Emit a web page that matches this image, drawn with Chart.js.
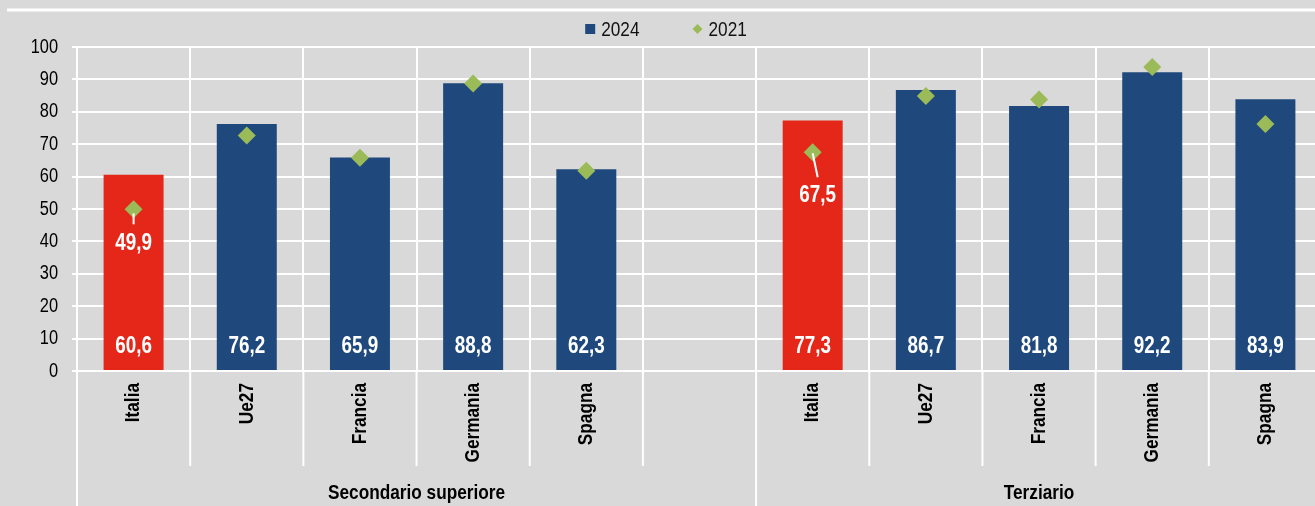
<!DOCTYPE html>
<html>
<head>
<meta charset="utf-8">
<script src="https://cdn.jsdelivr.net/npm/chart.js@4.4.1/dist/chart.umd.min.js"></script>
<style>
  html, body { margin: 0; padding: 0; background: #d9d9d9; overflow: hidden; }
  #wrap { width: 1331px; height: 506px; position: relative; }
</style>
</head>
<body>
<div id="wrap"><canvas id="chart"></canvas></div>
<script>
// data
const categories = ['Italia', 'Ue27', 'Francia', 'Germania', 'Spagna', '', 'Italia', 'Ue27', 'Francia', 'Germania', 'Spagna'];
const groupLabels = ['Secondario superiore', 'Terziario'];
const groupStarts = [0, 6];   // first category index of each group
const values2024 = [60.6, 76.2, 65.9, 88.8, 62.3, null, 77.3, 86.7, 81.8, 92.2, 83.9];
const values2021 = [49.9, 72.7, 65.8, 88.7, 61.8, null, 67.5, 84.9, 83.8, 93.8, 76.2];
const highlight = [true, false, false, false, false, false, true, false, false, false, false];
const yTicks = [0, 10, 20, 30, 40, 50, 60, 70, 80, 90, 100];

const BLUE = '#1f497d';
const RED = '#e42719';
const GREEN = '#9bbb59';
const FONT = "'Liberation Sans', Arial, sans-serif";
const NARROW = 0.82; // no Arial Narrow here, squeeze Liberation Sans instead

const fmt = v => v.toFixed(1).replace('.', ',');

// squeeze every text drawn on this canvas horizontally
const canvas = document.getElementById('chart');
const ctx = canvas.getContext('2d');
const rawFill = ctx.fillText.bind(ctx);
const rawMeasure = ctx.measureText.bind(ctx);
ctx.fillText = function (text, x, y) {
  this.save();
  this.translate(x, y);
  this.scale(NARROW, 1);
  rawFill(text, 0, 0);
  this.restore();
};
ctx.measureText = function (text) {
  const m = rawMeasure(text);
  return {
    width: m.width * NARROW,
    actualBoundingBoxAscent: m.actualBoundingBoxAscent,
    actualBoundingBoxDescent: m.actualBoundingBoxDescent,
    actualBoundingBoxLeft: m.actualBoundingBoxLeft * NARROW,
    actualBoundingBoxRight: m.actualBoundingBoxRight * NARROW
  };
};

const decor = {
  id: 'decor',
  beforeDraw(chart) {
    const c = chart.ctx;
    c.save();
    c.strokeStyle = '#ffffff';
    c.lineWidth = 3;
    c.beginPath();
    c.moveTo(7, 10);
    c.lineTo(chart.width, 10);
    c.stroke();

    // legend
    const ds = chart.data.datasets;
    c.font = '21px ' + FONT;
    c.textBaseline = 'middle';
    c.textAlign = 'left';
    const box = 10, gap = 6, between = 53;
    const widths = ds.map(d => box + gap + c.measureText(d.label).width);
    const total = widths.reduce((a, b) => a + b, 0) + between * (ds.length - 1);
    let lx = 666 - total / 2;
    const ly = 29;
    ds.forEach((d, i) => {
      c.fillStyle = d.legendColor;
      if (d.pointStyle === 'rectRot') {
        c.beginPath();
        c.moveTo(lx + box / 2, ly - box / 2);
        c.lineTo(lx + box, ly);
        c.lineTo(lx + box / 2, ly + box / 2);
        c.lineTo(lx, ly);
        c.closePath();
        c.fill();
      } else {
        c.fillRect(lx, ly - box / 2, box, box);
      }
      c.fillStyle = '#111111';
      c.fillText(d.label, lx + box + gap, ly + 1);
      lx += widths[i] + between;
    });
    c.restore();
  },
  afterDatasetsDraw(chart) {
    const c = chart.ctx;
    const y = chart.scales.y;
    const bars = chart.getDatasetMeta(0).data;
    const pts = chart.getDatasetMeta(1).data;
    c.save();
    c.fillStyle = '#ffffff';
    c.font = 'bold 23px ' + FONT;
    c.textAlign = 'center';
    c.textBaseline = 'middle';
    bars.forEach((bar, i) => {
      if (values2024[i] == null) return;
      c.fillText(fmt(values2024[i]), bar.x, y.getPixelForValue(0) - 24);
    });
    // 2021 labels only for Italia, with leader line
    c.strokeStyle = '#ffffff';
    c.lineWidth = 2;
    pts.forEach((p, i) => {
      if (!highlight[i] || values2021[i] == null) return;
      const second = i >= groupStarts[1];
      const slant = second ? 5 : 0;
      const drop = second ? 43 : 34;
      c.beginPath();
      c.moveTo(p.x, p.y + (second ? 1 : 4));
      c.lineTo(p.x + slant, p.y + drop - (second ? 18 : 19));
      c.stroke();
      c.fillText(fmt(values2021[i]), p.x + slant, p.y + drop);
    });
    c.restore();
  },
  afterDraw(chart) {
    const c = chart.ctx;
    const x = chart.scales.x;
    const area = chart.chartArea;
    const n = categories.length;
    const step = (x.right - x.left) / n;
    c.save();
    c.strokeStyle = '#ffffff';
    c.lineWidth = 2;
    for (let k = 0; k <= n; k++) {
      const px = x.left + k * step;
      const isGroup = k === 0 || k === n || groupStarts.includes(k);
      c.beginPath();
      c.moveTo(px, area.bottom);
      c.lineTo(px, isGroup ? chart.height : area.bottom + 95);
      c.stroke();
    }
    c.fillStyle = '#000000';
    c.font = 'bold 21px ' + FONT;
    c.textAlign = 'center';
    c.textBaseline = 'middle';
    groupLabels.forEach((g, gi) => {
      const from = groupStarts[gi];
      const to = gi + 1 < groupStarts.length ? groupStarts[gi + 1] : n;
      const cx = x.left + (from + to) / 2 * step;
      c.fillText(g, cx, area.bottom + 122);
    });
    c.restore();
  }
};

new Chart(ctx, {
  type: 'bar',
  data: {
    labels: categories,
    datasets: [{
      label: '2024',
      data: values2024,
      backgroundColor: highlight.map(h => h ? RED : BLUE),
      legendColor: BLUE,
      borderWidth: 0,
      categoryPercentage: 1,
      barPercentage: 0.53,
      pointStyle: 'rect',
      order: 2
    }, {
      type: 'line',
      label: '2021',
      data: values2021,
      showLine: false,
      pointStyle: 'rectRot',
      pointRadius: 9,
      pointHoverRadius: 9,
      backgroundColor: GREEN,
      borderColor: GREEN,
      legendColor: GREEN,
      borderWidth: 0,
      order: 1
    }]
  },
  options: {
    responsive: true,
    maintainAspectRatio: false,
    animation: false,
    layout: { padding: { top: 47 } },
    plugins: {
      legend: { display: false },
      tooltip: { enabled: false }
    },
    scales: {
      x: {
        offset: true,
        grid: { color: '#ffffff', lineWidth: 2, drawTicks: false, offset: true },
        border: { color: '#ffffff', width: 2 },
        ticks: {
          autoSkip: false,
          minRotation: 90,
          maxRotation: 90,
          padding: 12,
          color: '#000000',
          font: { family: FONT, size: 21, weight: 'bold' }
        },
        afterFit: s => { s.height = 135; }
      },
      y: {
        min: 0,
        max: 100,
        afterBuildTicks: s => { s.ticks = yTicks.map(v => ({ value: v })); },
        grid: { color: '#ffffff', lineWidth: 2, tickLength: 5 },
        border: { color: '#ffffff', width: 2 },
        ticks: {
          padding: 14,
          color: '#000000',
          font: { family: FONT, size: 20 }
        },
        afterFit: s => { s.width = 77; }
      }
    }
  },
  plugins: [decor]
});
</script>
</body>
</html>
